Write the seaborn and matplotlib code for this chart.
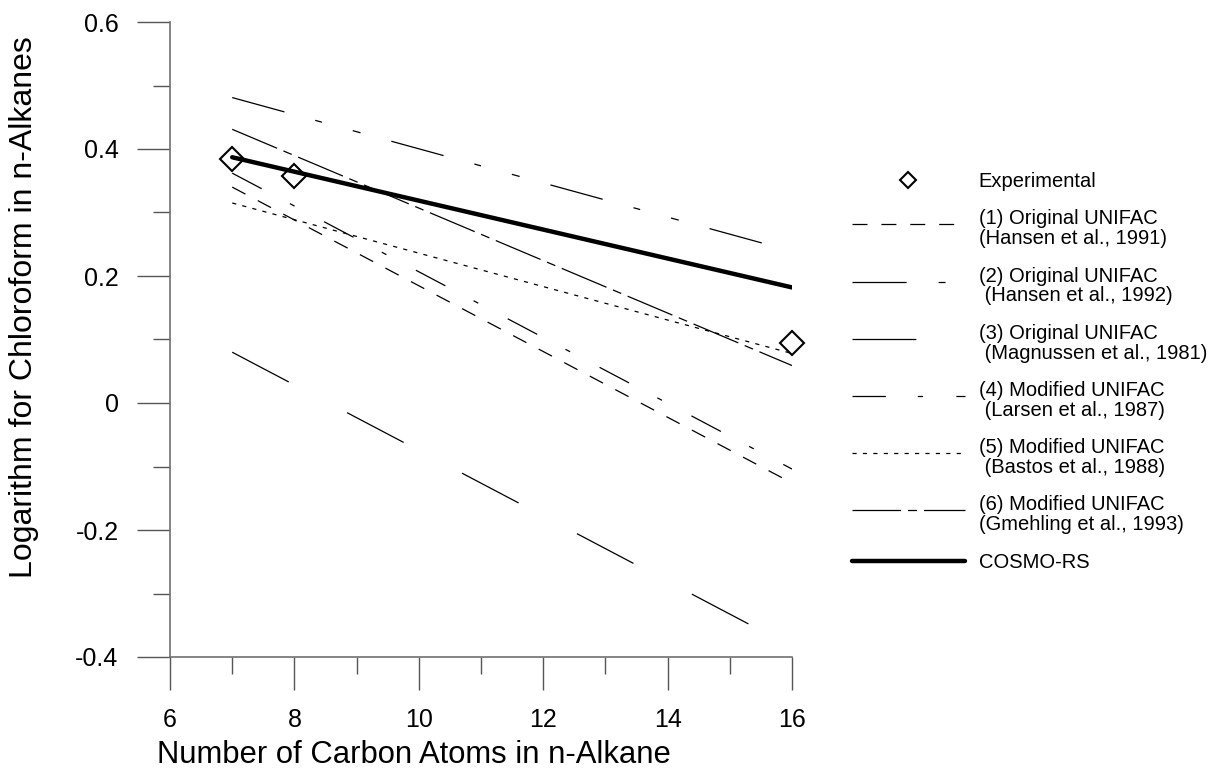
import numpy as np
import pandas as pd
import matplotlib
matplotlib.use("Agg")
import matplotlib.pyplot as plt
from matplotlib.ticker import MultipleLocator, FixedLocator, FixedFormatter
import seaborn as sns

sns.set_style("ticks")
plt.rcParams['font.family'] = ['Liberation Sans', 'DejaVu Sans']
plt.rcParams['lines.scale_dashes'] = False
plt.rcParams['text.color'] = 'black'
plt.rcParams['axes.labelcolor'] = 'black'

# data
carbon = [7, 16]
exp_carbon = [7, 8, 16]
experimental = [0.385, 0.357, 0.095]
hansen91 = [0.340, -0.126]
hansen92 = [0.481, 0.239]
magnussen81 = [0.080, -0.384]
larsen87 = [0.362, -0.104]
bastos88 = [0.315, 0.078]
gmehling93 = [0.431, 0.059]
cosmo_rs = [0.387, 0.182]

y_ticks = [-0.4, -0.2, 0, 0.2, 0.4, 0.6]
y_tick_labels = ["-0.4", "-0.2", "0", "0.2", "0.4", "0.6"]

models = [
    ("(1) Original UNIFAC\n(Hansen et al., 1991)", hansen91, (0, (10.8, 10))),
    ("(2) Original UNIFAC\n (Hansen et al., 1992)", hansen92, (0, (39, 23, 5, 23, 5.8, 23))),
    ("(3) Original UNIFAC\n (Magnussen et al., 1981)", magnussen81, (0, (46, 47.5))),
    ("(4) Modified UNIFAC\n (Larsen et al., 1987)", larsen87, (0, (24, 23, 3.8, 24))),
    ("(5) Modified UNIFAC\n (Bastos et al., 1988)", bastos88, (0, (3, 4.5))),
    ("(6) Modified UNIFAC\n(Gmehling et al., 1993)", gmehling93, (0, (35, 5, 6.5, 5))),
]

fig = plt.figure(figsize=(12.12, 7.72), dpi=100)
ax = fig.add_axes([170 / 1212, 1 - 657 / 772, 622 / 1212, 635 / 772])

handles = []
for label, vals, ls in models:
    sns.lineplot(x=carbon, y=vals, ax=ax, color="black", linewidth=0.9,
                 linestyle=ls, label=label, legend=False)
    handles.append(ax.lines[-1])

sns.lineplot(x=carbon, y=cosmo_rs, ax=ax, color="black", linewidth=3.2,
             label="COSMO-RS", legend=False)
cosmo_line = ax.lines[-1]

ax.plot(exp_carbon, experimental, linestyle="none", marker="D", markersize=12.5,
        markerfacecolor="none", markeredgecolor="black", markeredgewidth=1.5,
        label="Experimental", clip_on=False, zorder=5)
exp_handle = ax.lines[-1]

ax.set_xlim(6, 16)
ax.set_ylim(-0.4, 0.6)
ax.xaxis.set_major_locator(MultipleLocator(2))
ax.xaxis.set_minor_locator(MultipleLocator(1))
ax.yaxis.set_major_locator(FixedLocator(y_ticks))
ax.yaxis.set_major_formatter(FixedFormatter(y_tick_labels))
ax.yaxis.set_minor_locator(MultipleLocator(0.1))

for side in ["top", "right"]:
    ax.spines[side].set_visible(False)
for side in ["left", "bottom"]:
    ax.spines[side].set_color("#707070")
    ax.spines[side].set_linewidth(1.2)

ax.tick_params(which="major", direction="out", length=24, width=1, color="#555555",
               labelsize=18, pad=13, labelcolor="black")
ax.tick_params(which="minor", direction="out", length=12, width=1, color="#555555")

ax.set_xlabel("Number of Carbon Atoms in n-Alkane", fontsize=22.3)
ax.set_ylabel("Logarithm for Chloroform in n-Alkanes", fontsize=23)
ax.xaxis.set_label_coords(0.392, -0.154)
ax.xaxis.label.set_va("center")
ax.yaxis.set_label_coords(-0.235, 0.551)
ax.yaxis.label.set_va("center")

leg = ax.legend([exp_handle] + handles + [cosmo_line],
                ["Experimental"] + [m[0] for m in models] + ["COSMO-RS"],
                loc="upper left", bbox_to_anchor=(852 / 1212, 1 - 172 / 772),
                bbox_transform=fig.transFigure, frameon=False, fontsize=14.5,
                handlelength=5.6, handletextpad=0.7, labelspacing=0.91,
                borderpad=0, borderaxespad=0, numpoints=1, markerscale=0.65)
for t in leg.get_texts():
    t.set_linespacing(1.06)

fig.canvas.draw()
# put the line samples level with the first row of two-line labels
for ln in leg.get_lines()[1:7]:
    ln.set_ydata(np.asarray(ln.get_ydata()) + 3.5)

fig.savefig("out.png", dpi=100)
